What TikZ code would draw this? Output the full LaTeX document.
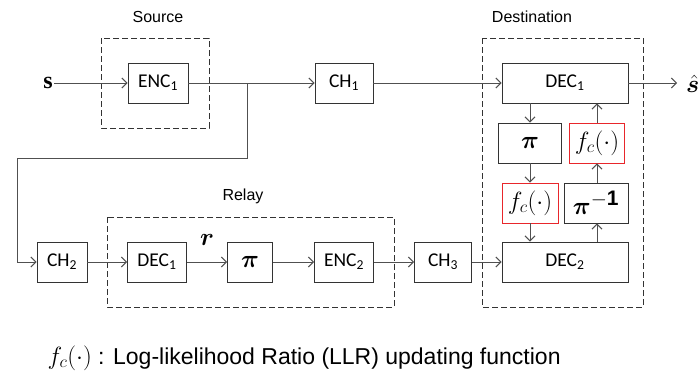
\documentclass[tikz,border=0pt]{standalone}
\usepackage{amsmath}
\usepackage{bm}
\usepackage{fontspec}
\setmainfont{Liberation Sans}
\newfontfamily\boxfont{Carlito}
\newfontfamily\symfont{Liberation Serif}
\usetikzlibrary{arrows.meta,positioning}
\definecolor{linegray}{HTML}{505050}
\definecolor{boxgray}{HTML}{333333}
\definecolor{fcred}{HTML}{E8262B}

\tikzset{
  blk/.style={draw=boxgray, line width=0.9pt, minimum height=40pt, inner sep=0pt,
    font=\fontsize{19.5}{20}\selectfont\boxfont},
  fcblk/.style={blk, draw=fcred, font=\fontsize{24}{26}\selectfont},
  mathblk/.style={blk, font=\fontsize{30}{32}\selectfont},
  group/.style={draw=boxgray, line width=0.9pt, dash pattern=on 6pt off 3pt},
  grouplabel/.style={font=\fontsize{16}{18}\selectfont},
  symlbl/.style={font=\fontsize{24}{26}\selectfont, inner sep=1pt},
  link/.style={draw=linegray, line width=1pt, -{Straight Barb[length=5pt,width=10pt]}},
}

\begin{document}
\begin{tikzpicture}[x=1pt,y=-1pt]
\useasboundingbox (0,0) rectangle (699,378);

% Source
\draw[group] (101,38) rectangle (209,128);
\node[grouplabel] (srclbl) at (158,17) {Source};
\node[blk, minimum width=60pt] (enc1) at (158,83) {ENC\textsubscript{1}};
\node[symlbl, anchor=east] (s) at (54,83) {\symfont\bfseries s};
\node[blk, minimum width=58pt] (ch1) at (344,83) {CH\textsubscript{1}};

% Destination
\draw[group] (482,38) rectangle (643,307);
\node[grouplabel] (dstlbl) at (532,17) {Destination};
\node[blk, minimum width=126pt] (dec1) at (565,83) {DEC\textsubscript{1}};
\node[mathblk, minimum width=63pt] (piD) at (530,143) {$\bm{\pi}$};
\node[fcblk, minimum width=55pt] (fcA) at (597,143) {$f_c(\cdot)$};
\node[fcblk, minimum width=56pt] (fcB) at (530,203) {$f_c(\cdot)$};
\node[mathblk, minimum width=64pt] (piinv) at (596,203) {$\bm{\pi}^{\mathbf{-1}}$};
\node[blk, minimum width=126pt] (dec2) at (565,262) {DEC\textsubscript{2}};
\node[symlbl, anchor=west] (shat) at (685,84) {$\hat{\bm{s}}$};

% Relay
\draw[group] (107,217) rectangle (394,307);
\node[grouplabel] (rlylbl) at (243,196) {Relay};
\node[blk, minimum width=50pt] (ch2) at (62,262) {CH\textsubscript{2}};
\node[blk, minimum width=59pt] (decR) at (157,262) {DEC\textsubscript{1}};
\node[mathblk, minimum width=45pt] (piR) at (250,262) {$\bm{\pi}$};
\node[blk, minimum width=59pt] (encR) at (344,262) {ENC\textsubscript{2}};
\node[blk, minimum width=57pt] (ch3) at (443,262) {CH\textsubscript{3}};
\node[symlbl] (r) at (207,240) {$\bm{r}$};

% connectors
\coordinate (split) at (247,83);
\coordinate (bendA) at (247,158);
\coordinate (bendB) at (17,158);
\draw[link] (s) -- (enc1);
\draw[link] (enc1) -- (ch1);
\draw[link] (ch1) -- (dec1);
\draw[link, shorten >=8pt] (dec1) -- (dec1 -| shat.west);
\draw[link] (split) -- (bendA) -- (bendB) |- (ch2);
\draw[link] (ch2) -- (decR);
\draw[link] (decR) -- (piR);
\draw[link] (piR) -- (encR);
\draw[link] (encR) -- (ch3);
\draw[link] (ch3) -- (dec2);
\draw[link] (dec1.south -| piD) -- (piD);
\draw[link] (piD) -- (fcB);
\draw[link] (fcB) -- (dec2.north -| fcB);
\draw[link] (dec2.north -| fcA) -- (piinv.south -| fcA);
\draw[link] (piinv.north -| fcA) -- (fcA);
\draw[link] (fcA) -- (dec1.south -| fcA);

% legend
\node[anchor=west, font=\fontsize{23}{26}\selectfont] (legend) at (44,358) {$f_c(\cdot)$ : Log-likelihood Ratio (LLR) updating function};

\end{tikzpicture}
\end{document}
